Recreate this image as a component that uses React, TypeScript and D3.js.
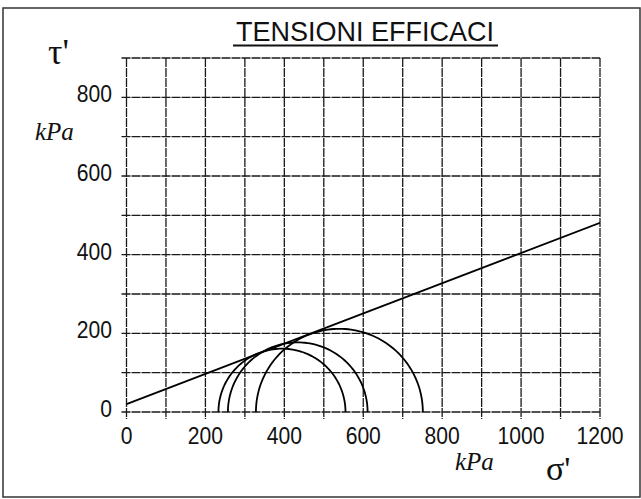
import React from 'react';
import * as d3 from 'd3';

// Mohr circles, effective stresses (kPa)
const sigma3 = [233, 257, 328];
const sigma1 = [555, 611, 751];

// failure envelope: c' + sigma' tan(phi')
const envelopeSigma = [0, 1200];
const envelopeTau = [20, 481];

const xTicks = [0, 200, 400, 600, 800, 1000, 1200];
const yTicks = [0, 200, 400, 600, 800];
const gridX = d3.range(0, 1201, 100);
const gridY = d3.range(0, 901, 100);

const W = 641;
const H = 499;

const x = d3.scaleLinear().domain([0, 1200]).range([126.5, 600]);
const y = d3.scaleLinear().domain([0, 900]).range([412, 58]);

const sans = '"Liberation Sans", Arial, sans-serif';
const serif = '"Liberation Serif", "Times New Roman", serif';

const line = d3.line<[number, number]>()
  .x(d => x(d[0]))
  .y(d => y(d[1]));

const semicircle = (s3: number, s1: number) => {
  const c = (s3 + s1) / 2;
  const r = (s1 - s3) / 2;
  const pts: [number, number][] = d3.range(0, 181, 2).map(a => {
    const t = (a * Math.PI) / 180;
    return [c - r * Math.cos(t), r * Math.sin(t)];
  });
  return line(pts) as string;
};

// digits in the scan are a bit taller than Arial's
const Label = ({ tx, ty, anchor, v }: { tx: number; ty: number; anchor: string; v: number }) => (
  <text transform={`translate(${tx},${ty}) scale(0.96,1.1)`} textAnchor={anchor}>
    {v}
  </text>
);

export default function App() {
  return (
    <svg width={W} height={H} style={{ position: 'absolute', left: 0, top: 0, background: '#fff' }}>
      <defs>
        <clipPath id="plot">
          <rect x={x(0)} y={y(900)} width={x(1200) - x(0)} height={y(0) - y(900)} />
        </clipPath>
      </defs>

      {/* outer frame */}
      <rect x={3} y={8} width={637} height={489} fill="none" stroke="#333" strokeWidth={1.5} />

      {/* title */}
      <text transform="translate(365,41) scale(1,1.05)" textAnchor="middle" fontFamily={sans} fontSize={27} fill="#111">
        TENSIONI EFFICACI
      </text>
      <line x1={233} x2={498} y1={45.5} y2={45.5} stroke="#111" strokeWidth={2} />

      {/* grid */}
      <g stroke="#1a1a1a" strokeWidth={1.3} strokeDasharray="9 1">
        {gridX.map(v => (
          <line key={'gx' + v} x1={x(v)} x2={x(v)} y1={y(900)} y2={y(0) + 7} />
        ))}
        {gridY.map(v => (
          <line key={'gy' + v} x1={x(0) - 5} x2={x(1200)} y1={y(v)} y2={y(v)} />
        ))}
      </g>

      {/* tick labels */}
      <g fontFamily={sans} fontSize={22} fill="#111">
        {yTicks.map(v => (
          <Label key={'yt' + v} tx={112} ty={y(v) + 5} anchor="end" v={v} />
        ))}
        {xTicks.map(v => (
          <Label key={'xt' + v} tx={x(v)} ty={443.5} anchor="middle" v={v} />
        ))}
      </g>

      {/* envelope and circles */}
      <g clipPath="url(#plot)" fill="none" stroke="#000" strokeWidth={1.8}>
        <path d={line(envelopeSigma.map((s, i) => [s, envelopeTau[i]] as [number, number])) as string} />
        {sigma3.map((s3, i) => (
          <path key={'c' + i} d={semicircle(s3, sigma1[i])} />
        ))}
      </g>

      {/* axis symbols */}
      <text x={48} y={64} fontFamily={serif} fontSize={36} fill="#111">τ'</text>
      <text x={35} y={140} fontFamily={serif} fontStyle="italic" fontSize={25} fill="#111">kPa</text>
      <text x={455} y={470} fontFamily={serif} fontStyle="italic" fontSize={25} fill="#111">kPa</text>
      <text x={546} y={480} fontFamily={serif} fontSize={34} fill="#111">σ'</text>
    </svg>
  );
}
